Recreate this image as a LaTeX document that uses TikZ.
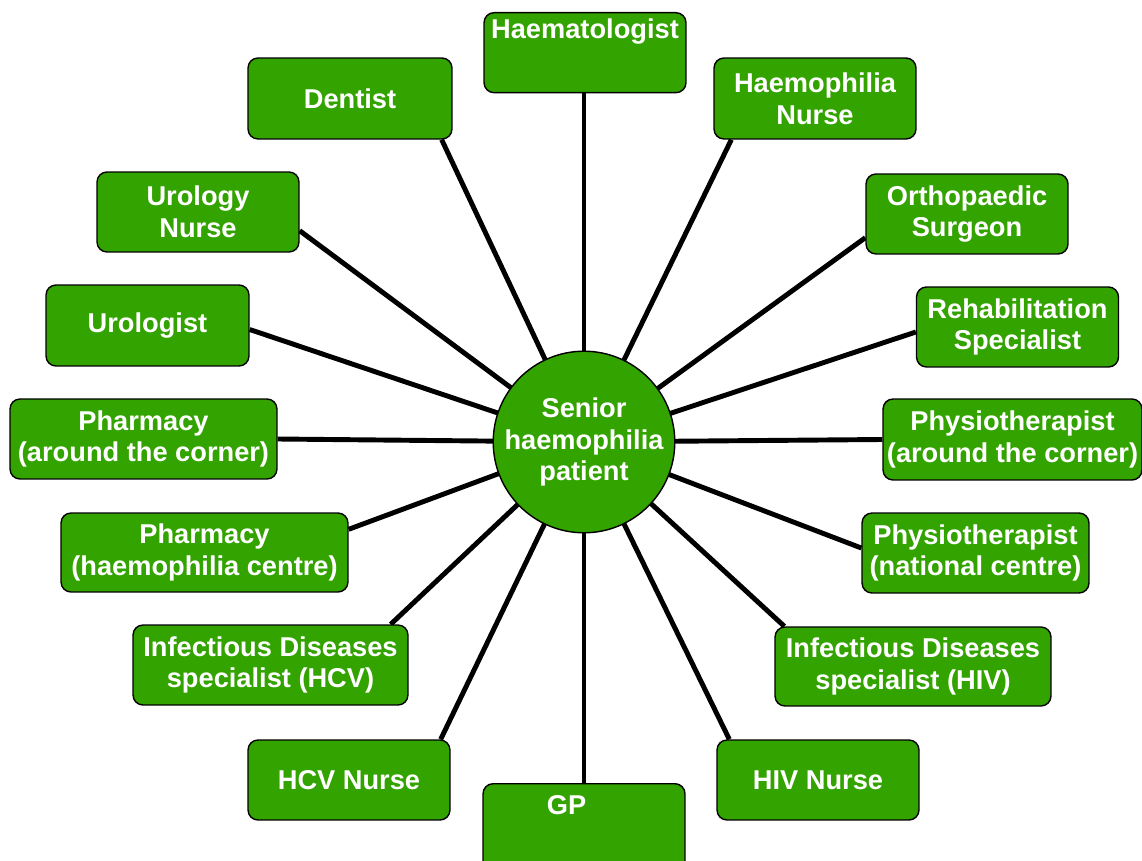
\documentclass[tikz,border=0pt]{standalone}
\usepackage{fontspec}
\setmainfont{Liberation Sans}
\usetikzlibrary{calc,backgrounds}
\definecolor{teamgreen}{RGB}{51,163,0}

\begin{document}
\begin{tikzpicture}[x=0.02cm,y=-0.02cm,
    member/.style={draw=black,line width=0.8pt,fill=teamgreen,rounded corners=0.2cm,
        text=white,font=\bfseries\fontsize{15.5}{18}\selectfont,align=center,
        minimum width=4.04cm,minimum height=1.6cm,inner sep=2pt},
    spoke/.style={line width=2.8pt,black}]

    \useasboundingbox (0,0) rectangle (1142,861);

    % centre
    \node[member,circle,rounded corners=0pt,minimum size=3.28cm,inner sep=0pt] (patient) at (584,442) {Senior\\haemophilia\\patient};

    % top and bottom boxes, text sits high
    \node[member,anchor=north,inner ysep=0.12cm,text height=0.4cm,text depth=0.96cm] (haematologist) at (585,12) {Haematologist};
    \node[member,anchor=north,inner ysep=0.12cm,text height=0.5cm,text depth=1.2cm] (gp) at (584,783) {GP\hspace{0.7cm}};

    % left side
    \node[member,minimum width=4.08cm,minimum height=1.62cm] (dentist) at (350,98.5) {Dentist};
    \node[member] (urologynurse) at (198,212) {Urology\\Nurse};
    \node[member,minimum width=4.06cm,minimum height=1.62cm] (urologist) at (147.5,325.5) {Urologist};
    \node[member,minimum width=5.34cm] (pharmacycorner) at (143.5,439) {Pharmacy\\(around the corner)};
    \node[member,minimum width=5.74cm,minimum height=1.58cm] (pharmacycentre) at (204.5,552.5) {Pharmacy\\(haemophilia centre)};
    \node[member,minimum width=5.5cm] (idhcv) at (270.5,665) {Infectious Diseases\\specialist (HCV)};
    \node[member] (hcvnurse) at (349,780) {HCV Nurse};

    % right side
    \node[member,minimum height=1.62cm] (haemnurse) at (815,98.5) {Haemophilia\\Nurse};
    \node[member] (ortho) at (967,214) {Orthopaedic\\Surgeon};
    \node[member] (rehab) at (1017.5,327) {Rehabilitation\\Specialist};
    \node[member,minimum width=5.18cm,minimum height=1.62cm] (physiocorner) at (1012.5,439.5) {Physiotherapist\\(around the corner)};
    \node[member,minimum width=4.54cm] (physionational) at (975.5,553) {Physiotherapist\\(national centre)};
    \node[member,minimum width=5.52cm,minimum height=1.58cm] (idhiv) at (913,666.5) {Infectious Diseases\\specialist (HIV)};
    \node[member] (hivnurse) at (818,780) {HIV Nurse};

    \begin{scope}[on background layer]
        \draw[spoke] (patient.center) -- (patient.center |- haematologist.south);
        \draw[spoke] (patient.center) -- (patient.center |- gp.north);
        \draw[spoke] (patient.center) -- ($(dentist.south east)+(-11,0)$);
        \draw[spoke] (patient.center) -- ($(urologynurse.south east)+(0,-22)$);
        \draw[spoke] (patient.center) -- ($(urologist.east)+(0,4)$);
        \draw[spoke] (patient.center) -- (pharmacycorner.east);
        \draw[spoke] (patient.center) -- ($(pharmacycentre.north east)+(0,17)$);
        \draw[spoke] (patient.center) -- ($(idhcv.north east)+(-18,0)$);
        \draw[spoke] (patient.center) -- ($(hcvnurse.north east)+(-10,0)$);
        \draw[spoke] (patient.center) -- ($(haemnurse.south west)+(18,0)$);
        \draw[spoke] (patient.center) -- ($(ortho.south west)+(0,-17)$);
        \draw[spoke] (patient.center) -- ($(rehab.west)+(0,5)$);
        \draw[spoke] (patient.center) -- (physiocorner.west);
        \draw[spoke] (patient.center) -- ($(physionational.west)+(0,-5)$);
        \draw[spoke] (patient.center) -- ($(idhiv.north west)+(10,0)$);
        \draw[spoke] (patient.center) -- ($(hivnurse.north west)+(13,0)$);
    \end{scope}
\end{tikzpicture}
\end{document}
